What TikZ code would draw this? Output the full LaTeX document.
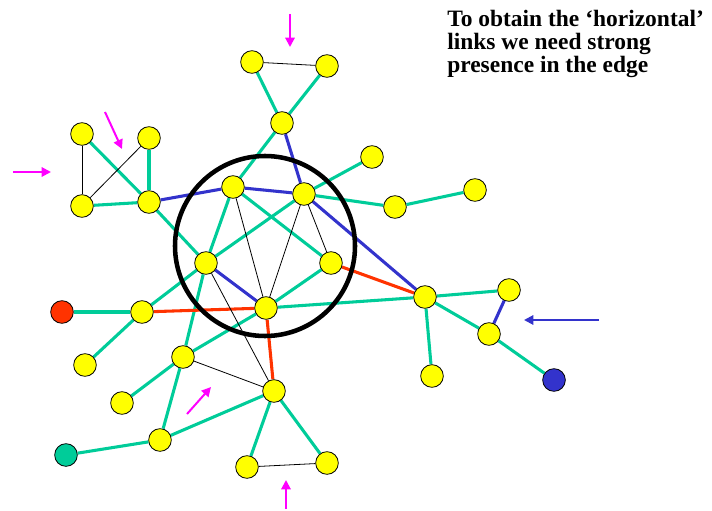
\documentclass[tikz,border=0pt]{standalone}
\usepackage{fontspec}
\setmainfont{Liberation Serif}
\usetikzlibrary{arrows.meta, backgrounds}
\definecolor{cyellow}{HTML}{FFFF00}
\definecolor{cgreen}{HTML}{00CC99}
\definecolor{cblue}{HTML}{3333CC}
\definecolor{cred}{HTML}{FF3300}
\definecolor{cmagenta}{HTML}{FF00FF}
\tikzset{
  site/.style={circle, draw=black, fill=#1, line width=0.6pt, minimum size=17pt, inner sep=0pt},
  site/.default=cyellow,
  link/.style={draw=#1, line width=2.3pt},
  weak/.style={draw=black, line width=0.6pt},
  pointer/.style={-{Triangle[length=7pt, width=7pt]}, draw=#1, line width=1.5pt},
  pointer/.default=cmagenta,
  caption/.style={font=\bfseries\fontsize{17.6}{17.2}\selectfont, align=left, inner sep=0pt},
}

\begin{document}
\begin{tikzpicture}[x=0.75pt, y=-0.75pt]
  \useasboundingbox (0,0) rectangle (712,510);
  % the core ring
  \draw[line width=3.4pt] (265,246) circle[radius=67.5pt];

  % top triangle
  \node[site] (tl) at (252,62) {};
  \node[site] (tr) at (327,66) {};
  \node[site] (tb) at (282,123) {};
  % upper left group
  \node[site] (ul) at (82,134) {};
  \node[site] (ur) at (149,138) {};
  \node[site] (ll) at (82,206) {};
  \node[site] (lr) at (149,202) {};
  % inside the ring
  \node[site] (cnw) at (233,187) {};
  \node[site] (cne) at (304,194) {};
  \node[site] (cw) at (206,263) {};
  \node[site] (ce) at (331,263) {};
  \node[site] (cs) at (266,308) {};
  % east
  \node[site] (ea) at (372,157) {};
  \node[site] (eb) at (395,207) {};
  \node[site] (ec) at (475,190) {};
  \node[site] (hub) at (425,297) {};
  \node[site] (ha) at (509,290) {};
  \node[site] (hb) at (489,334) {};
  \node[site] (hc) at (432,376) {};
  \node[site=cblue] (hdot) at (554,380) {};
  % west and south
  \node[site=cred] (rdot) at (62,312) {};
  \node[site] (wa) at (142,312) {};
  \node[site] (wb) at (85,365) {};
  \node[site] (wc) at (183,357) {};
  \node[site] (wd) at (122,403) {};
  \node[site] (we) at (160,440) {};
  \node[site=cgreen] (gdot) at (66,455) {};
  \node[site] (sa) at (274,391) {};
  \node[site] (sb) at (247,467) {};
  \node[site] (sc) at (327,463) {};

  \begin{scope}[on background layer]
    \foreach \a/\b in {tl/tb, tr/tb, tb/cnw, ul/lr, ur/lr, ll/lr, lr/cw, cnw/cw, cnw/ce,
      cne/cw, cne/ea, cne/eb, eb/ec, cw/wa, cw/wc, ce/cs, cs/wc, cs/hub, hub/ha, hub/hb,
      hub/hc, hb/hdot, rdot/wa, wa/wb, wc/wd, wc/we, we/sa, we/gdot, sa/sb, sa/sc}
      \draw[link=cgreen] (\a) -- (\b);
    \foreach \a/\b in {tb/cne, lr/cnw, cnw/cne, cne/hub, cw/cs, ha/hb}
      \draw[link=cblue] (\a) -- (\b);
    \foreach \a/\b in {wa/cs, ce/hub, cs/sa}
      \draw[link=cred] (\a) -- (\b);
    \foreach \a/\b in {tl/tr, ul/ll, ll/ur, cnw/cs, cne/cs, cne/ce, cw/sa, wc/sa, sb/sc}
      \draw[weak] (\a) -- (\b);
  \end{scope}

  % pointers
  \coordinate (p1s) at (290,14);  \coordinate (p1e) at (290,47);
  \coordinate (p2s) at (105,112); \coordinate (p2e) at (122,149);
  \coordinate (p3s) at (13,172);  \coordinate (p3e) at (51,172);
  \coordinate (p4s) at (187,414); \coordinate (p4e) at (211,387);
  \coordinate (p5s) at (286,509); \coordinate (p5e) at (286,480);
  \coordinate (p6s) at (599,320); \coordinate (p6e) at (524,320);
  \foreach \i in {1,...,5} \draw[pointer] (p\i s) -- (p\i e);
  \draw[pointer=cblue] (p6s) -- (p6e);

  \node[caption, anchor=north west] (note) at (447,10) {To obtain the ‘horizontal’\\links we need strong\\presence in the edge};
\end{tikzpicture}
\end{document}
